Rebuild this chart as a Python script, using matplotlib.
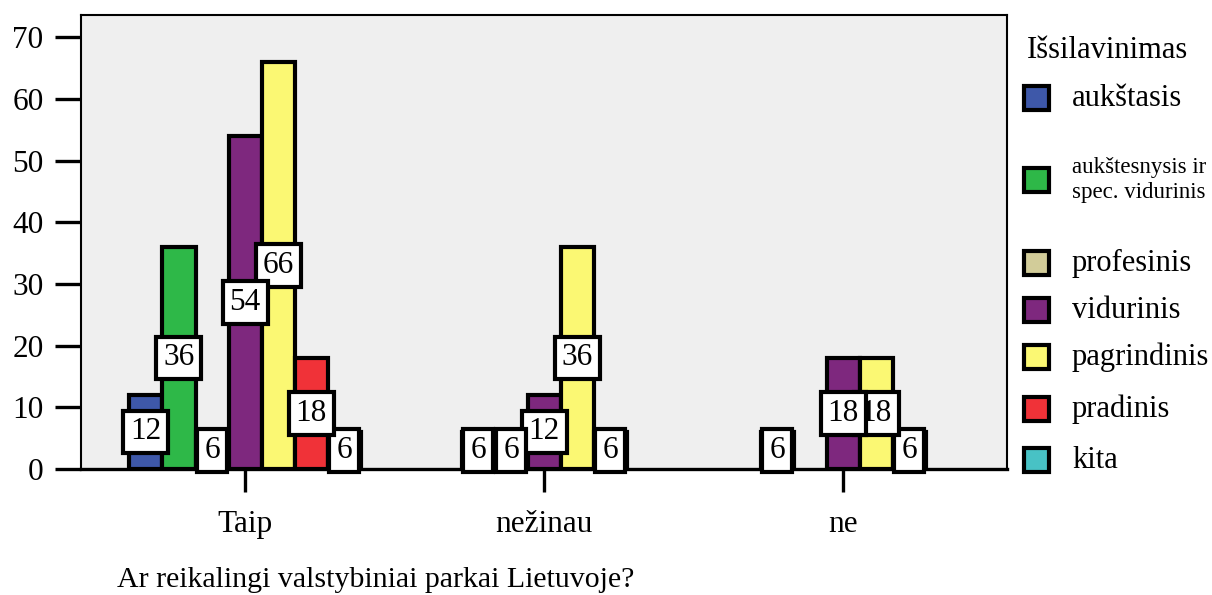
import numpy as np
import matplotlib
matplotlib.use("Agg")
from matplotlib import pyplot as plt
from matplotlib.patches import Rectangle

plt.rcParams['font.family'] = ['Liberation Serif', 'DejaVu Serif']

categories = ["Taip", "nežinau", "ne"]
series = ["aukštasis", "aukštesnysis ir\nspec. vidurinis", "profesinis",
          "vidurinis", "pagrindinis", "pradinis", "kita"]
colors = ["#3e58a9", "#2eb848", "#d2cc99", "#7e287e", "#fbf873", "#f03238", "#48c2c5"]

# counts per category, one list per education level
aukstasis = [12, 0, 0]
aukstesnysis = [36, 6, 6]
profesinis = [6, 6, 0]
vidurinis = [54, 12, 18]
pagrindinis = [66, 36, 18]
pradinis = [18, 6, 6]
kita = [6, 0, 0]
values = [aukstasis, aukstesnysis, profesinis, vidurinis, pagrindinis, pradinis, kita]

W, H = 1212, 595
fig = plt.figure(figsize=(W / 100, H / 100), dpi=100)
ax = fig.add_axes([81 / W, 1 - 469 / H, (1007 - 81) / W, (469 - 15) / H])
ax.set_facecolor("#efefef")

x = np.arange(len(categories))
bw = 0.1104
n = len(series)
for j, (vals, col) in enumerate(zip(values, colors)):
    xs = x + (j - (n - 1) / 2) * bw
    for xi, v in zip(xs, vals):
        if v <= 0:
            continue
        ax.bar(xi, v, width=bw, color=col, edgecolor="black", linewidth=3, zorder=2)
    for xi, v in zip(xs, vals):
        if v <= 0:
            continue
        # earlier series' labels sit on top, like the original
        ax.text(xi, v / 2, str(v), ha="center", va="center", fontsize=22.5, zorder=20 - j,
                bbox=dict(boxstyle="square,pad=0.22", fc="white", ec="black", lw=3))

ax.set_xlim(-0.5485, 2.548)
ax.set_ylim(0, 73.6)
ax.set_yticks(range(0, 71, 10))
ax.set_xticks(x)
ax.set_xticklabels(categories)
ax.tick_params(axis="y", length=19, width=2.4, pad=8, labelsize=22.5)
ax.tick_params(axis="x", length=16.5, width=2.4, pad=13, labelsize=22.5)
for s in ["top", "right", "left"]:
    ax.spines[s].set_linewidth(1.5)
ax.spines["bottom"].set_linewidth(2.4)

fig.text(117 / W, 1 - 580 / H, "Ar reikalingi valstybiniai parkai Lietuvoje?",
         ha="left", va="center", fontsize=21.5)

# legend drawn by hand to mimic the SPSS layout
fig.text(1027 / W, 1 - 50 / H, "Išsilavinimas", ha="left", va="center", fontsize=22)
leg_y = [98, 180, 263, 310, 357, 409, 460]
for lab, col, yy in zip(series, colors, leg_y):
    fig.patches.append(Rectangle((1024 / W, 1 - (yy + 12) / H), 25 / W, 24 / H,
                                 transform=fig.transFigure, fc=col, ec="black", lw=3))
    fs = 16.5 if "\n" in lab else 22
    fig.text(1072 / W, 1 - yy / H, lab, ha="left", va="center", fontsize=fs,
             linespacing=1.25)

fig.savefig("out.png", dpi=100)
